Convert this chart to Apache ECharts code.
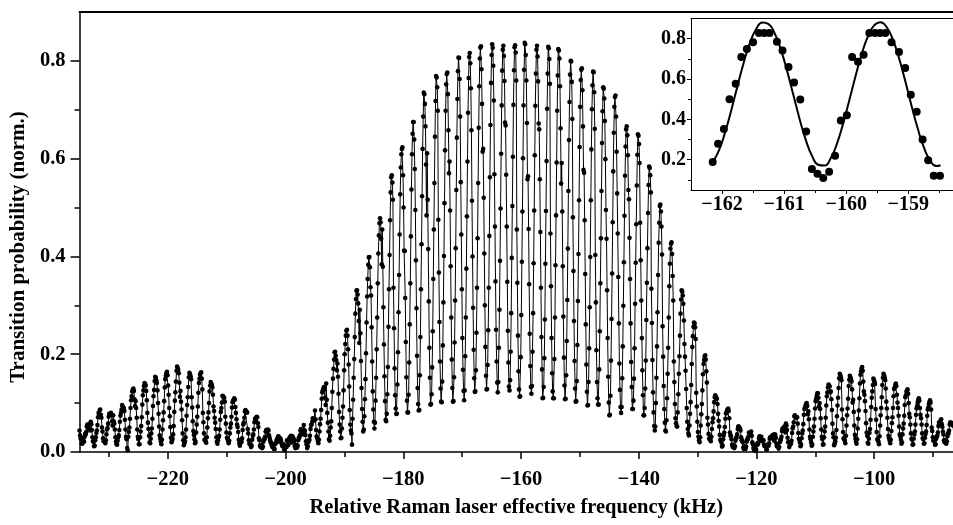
<!DOCTYPE html>
<html>
<head>
<meta charset="utf-8">
<title>Raman fringes</title>
<script src="https://cdn.jsdelivr.net/npm/echarts@6.0.0/dist/echarts.min.js"></script>
<style>
html, body { margin: 0; padding: 0; background: #fff; }
#chart { width: 953px; height: 525px; }
</style>
</head>
<body>
<div id="chart"></div>
<script>
// scan settings of the main trace (kHz); one fringe = 20 samples
var scanStart = -235.0;
var scanStep = 0.09525;

// transition probability per fringe, samples 0,2,4,...,18
var fringeEven = [
  [0.044,0.027,0.018,0.025,0.021,0.037,0.041,0.056,0.049,0.047],
  [0.062,0.045,0.022,0.012,0.024,0.039,0.055,0.080,0.086,0.076],
  [0.050,0.028,0.024,0.018,0.036,0.049,0.072,0.077,0.080,0.063],
  [0.075,0.058,0.030,0.016,0.023,0.034,0.062,0.080,0.096,0.090],
  [0.084,0.046,0.026,0.003,0.041,0.068,0.106,0.124,0.130,0.108],
  [0.104,0.070,0.031,0.016,0.030,0.053,0.097,0.126,0.141,0.136],
  [0.106,0.060,0.033,0.018,0.038,0.068,0.114,0.145,0.152,0.141],
  [0.100,0.052,0.027,0.016,0.046,0.081,0.132,0.156,0.164,0.136],
  [0.090,0.051,0.020,0.027,0.053,0.105,0.144,0.175,0.168,0.142],
  [0.125,0.087,0.038,0.014,0.022,0.046,0.096,0.133,0.162,0.155],
  [0.112,0.063,0.035,0.018,0.040,0.072,0.121,0.150,0.161,0.150],
  [0.080,0.038,0.024,0.019,0.050,0.081,0.124,0.143,0.137,0.117],
  [0.084,0.060,0.030,0.017,0.030,0.046,0.082,0.101,0.114,0.111],
  [0.072,0.040,0.027,0.018,0.038,0.058,0.091,0.104,0.110,0.092],
  [0.067,0.051,0.025,0.013,0.020,0.028,0.056,0.070,0.086,0.081],
  [0.047,0.024,0.017,0.010,0.025,0.036,0.061,0.068,0.072,0.059],
  [0.028,0.013,0.014,0.008,0.021,0.026,0.042,0.040,0.046,0.034],
  [0.024,0.018,0.010,0.015,0.006,0.019,0.026,0.031,0.022,0.028],
  [0.020,0.012,0.016,0.004,0.010,0.024,0.014,0.028,0.031,0.019],
  [0.032,0.027,0.012,0.014,0.009,0.024,0.029,0.044,0.040,0.045],
  [0.055,0.043,0.022,0.008,0.020,0.025,0.047,0.056,0.069,0.064],
  [0.085,0.045,0.028,0.018,0.042,0.068,0.109,0.126,0.133,0.111],
  [0.140,0.080,0.042,0.023,0.050,0.090,0.150,0.189,0.205,0.188],
  [0.181,0.119,0.056,0.028,0.048,0.093,0.167,0.221,0.248,0.238],
  [0.179,0.086,0.044,0.015,0.107,0.190,0.283,0.330,0.322,0.268],
  [0.291,0.186,0.088,0.042,0.073,0.149,0.265,0.354,0.398,0.378],
  [0.320,0.185,0.087,0.048,0.105,0.210,0.345,0.443,0.478,0.436],
  [0.455,0.296,0.155,0.066,0.078,0.174,0.333,0.474,0.562,0.551],
  [0.336,0.171,0.089,0.078,0.204,0.362,0.527,0.609,0.623,0.500],
  [0.411,0.225,0.105,0.081,0.183,0.345,0.537,0.651,0.675,0.579],
  [0.392,0.197,0.098,0.086,0.235,0.425,0.620,0.735,0.712,0.588],
  [0.611,0.415,0.213,0.097,0.118,0.247,0.455,0.645,0.769,0.746],
  [0.475,0.266,0.130,0.102,0.218,0.401,0.617,0.752,0.776,0.658],
  [0.594,0.380,0.189,0.103,0.153,0.310,0.536,0.722,0.807,0.763],
  [0.552,0.333,0.168,0.106,0.196,0.375,0.594,0.765,0.816,0.744],
  [0.514,0.295,0.151,0.124,0.244,0.437,0.663,0.805,0.830,0.712],
  [0.620,0.406,0.215,0.128,0.178,0.336,0.562,0.755,0.834,0.790],
  [0.568,0.349,0.185,0.122,0.213,0.391,0.610,0.780,0.831,0.759],
  [0.668,0.461,0.248,0.134,0.147,0.284,0.503,0.710,0.828,0.817],
  [0.455,0.238,0.128,0.114,0.280,0.492,0.709,0.837,0.812,0.673],
  [0.564,0.343,0.176,0.119,0.205,0.386,0.607,0.774,0.831,0.758],
  [0.660,0.450,0.235,0.110,0.133,0.271,0.493,0.702,0.829,0.804],
  [0.447,0.233,0.124,0.110,0.275,0.484,0.698,0.824,0.805,0.662],
  [0.591,0.380,0.193,0.108,0.157,0.311,0.534,0.716,0.800,0.757],
  [0.480,0.268,0.130,0.104,0.219,0.405,0.624,0.761,0.785,0.666],
  [0.571,0.364,0.179,0.095,0.143,0.296,0.515,0.701,0.778,0.736],
  [0.403,0.208,0.110,0.097,0.247,0.437,0.632,0.746,0.723,0.599],
  [0.436,0.233,0.101,0.076,0.187,0.365,0.574,0.706,0.729,0.614],
  [0.447,0.263,0.127,0.080,0.151,0.299,0.483,0.625,0.666,0.607],
  [0.517,0.354,0.184,0.088,0.105,0.212,0.387,0.545,0.650,0.630],
  [0.469,0.310,0.167,0.075,0.090,0.187,0.346,0.489,0.584,0.566],
  [0.334,0.188,0.081,0.044,0.100,0.216,0.362,0.469,0.506,0.461],
  [0.257,0.135,0.060,0.042,0.110,0.213,0.339,0.416,0.429,0.360],
  [0.185,0.098,0.059,0.052,0.118,0.196,0.283,0.331,0.320,0.269],
  [0.195,0.129,0.062,0.038,0.054,0.102,0.180,0.237,0.265,0.255],
  [0.121,0.062,0.031,0.020,0.054,0.098,0.159,0.188,0.198,0.165],
  [0.070,0.037,0.028,0.022,0.047,0.069,0.102,0.116,0.110,0.098],
  [0.064,0.035,0.023,0.011,0.026,0.040,0.068,0.080,0.087,0.084],
  [0.040,0.033,0.015,0.013,0.008,0.023,0.029,0.047,0.052,0.048],
  [0.030,0.024,0.009,0.011,0.006,0.021,0.026,0.040,0.038,0.042],
  [0.020,0.008,0.010,0.002,0.014,0.016,0.028,0.027,0.031,0.022],
  [0.024,0.012,0.012,0.005,0.015,0.018,0.030,0.031,0.034,0.027],
  [0.036,0.029,0.012,0.013,0.010,0.025,0.031,0.048,0.047,0.050],
  [0.058,0.045,0.020,0.010,0.017,0.023,0.048,0.061,0.075,0.070],
  [0.071,0.039,0.025,0.012,0.028,0.044,0.076,0.090,0.098,0.094],
  [0.083,0.046,0.026,0.013,0.031,0.052,0.089,0.109,0.120,0.111],
  [0.100,0.069,0.031,0.015,0.030,0.052,0.095,0.122,0.138,0.134],
  [0.124,0.086,0.038,0.014,0.022,0.045,0.095,0.131,0.160,0.153],
  [0.087,0.041,0.026,0.018,0.054,0.089,0.135,0.156,0.149,0.128],
  [0.107,0.054,0.027,0.017,0.048,0.085,0.140,0.165,0.174,0.144],
  [0.117,0.084,0.040,0.019,0.027,0.047,0.092,0.124,0.150,0.143],
  [0.088,0.041,0.024,0.016,0.054,0.090,0.137,0.160,0.153,0.130],
  [0.089,0.047,0.028,0.018,0.043,0.071,0.114,0.132,0.140,0.117],
  [0.090,0.052,0.032,0.017,0.036,0.058,0.096,0.116,0.126,0.119],
  [0.078,0.056,0.027,0.015,0.027,0.042,0.076,0.094,0.106,0.105],
  [0.076,0.056,0.028,0.017,0.029,0.042,0.074,0.091,0.102,0.101],
  [0.050,0.030,0.025,0.015,0.027,0.033,0.053,0.058,0.065,0.057],
  [0.042,0.024,0.024,0.017,0.032,0.038,0.056,0.060,0.057,0.054]
];

// transition probability per fringe, samples 1,3,5,...,19
var fringeOdd = [
  [0.034,0.029,0.017,0.024,0.031,0.036,0.052,0.050,0.057,0.044],
  [0.057,0.030,0.021,0.013,0.030,0.044,0.071,0.079,0.087,0.070],
  [0.042,0.022,0.023,0.024,0.046,0.058,0.078,0.076,0.076,0.054],
  [0.063,0.046,0.021,0.015,0.030,0.045,0.074,0.087,0.093,0.090],
  [0.066,0.031,0.008,0.031,0.050,0.090,0.114,0.127,0.125,0.094],
  [0.090,0.046,0.026,0.016,0.042,0.071,0.116,0.135,0.139,0.125],
  [0.080,0.047,0.020,0.027,0.048,0.094,0.127,0.154,0.147,0.126],
  [0.078,0.034,0.021,0.025,0.065,0.104,0.149,0.161,0.157,0.117],
  [0.073,0.029,0.023,0.036,0.082,0.122,0.166,0.172,0.161,0.113],
  [0.103,0.065,0.024,0.018,0.030,0.074,0.112,0.153,0.159,0.149],
  [0.091,0.043,0.026,0.021,0.056,0.093,0.141,0.158,0.163,0.128],
  [0.061,0.025,0.021,0.030,0.069,0.100,0.136,0.140,0.132,0.093],
  [0.070,0.047,0.021,0.024,0.033,0.066,0.090,0.115,0.112,0.103],
  [0.058,0.029,0.023,0.023,0.050,0.072,0.102,0.107,0.107,0.080],
  [0.056,0.041,0.018,0.018,0.021,0.045,0.060,0.083,0.083,0.081],
  [0.038,0.017,0.015,0.013,0.033,0.046,0.068,0.069,0.071,0.051],
  [0.024,0.010,0.013,0.011,0.026,0.031,0.045,0.042,0.044,0.029],
  [0.020,0.014,0.015,0.006,0.016,0.021,0.021,0.032,0.027,0.025],
  [0.016,0.015,0.005,0.012,0.010,0.023,0.024,0.027,0.033,0.022],
  [0.026,0.022,0.008,0.013,0.013,0.029,0.034,0.047,0.042,0.036],
  [0.045,0.035,0.016,0.012,0.024,0.033,0.055,0.062,0.066,0.066],
  [0.067,0.032,0.023,0.025,0.057,0.086,0.122,0.130,0.128,0.096],
  [0.107,0.060,0.026,0.033,0.063,0.123,0.170,0.204,0.197,0.167],
  [0.154,0.082,0.042,0.029,0.070,0.126,0.200,0.238,0.250,0.210],
  [0.134,0.056,0.038,0.068,0.152,0.235,0.313,0.331,0.304,0.223],
  [0.243,0.131,0.062,0.046,0.108,0.202,0.318,0.383,0.399,0.337],
  [0.255,0.124,0.062,0.060,0.152,0.275,0.406,0.468,0.470,0.384],
  [0.379,0.220,0.104,0.063,0.118,0.256,0.403,0.531,0.566,0.516],
  [0.253,0.116,0.078,0.138,0.286,0.445,0.582,0.620,0.566,0.412],
  [0.315,0.153,0.081,0.117,0.261,0.441,0.609,0.675,0.639,0.495],
  [0.294,0.131,0.085,0.157,0.333,0.523,0.686,0.732,0.666,0.484],
  [0.516,0.308,0.152,0.098,0.173,0.354,0.550,0.718,0.766,0.698],
  [0.367,0.185,0.103,0.144,0.306,0.509,0.698,0.773,0.732,0.570],
  [0.494,0.275,0.131,0.104,0.224,0.417,0.643,0.779,0.806,0.686],
  [0.445,0.233,0.125,0.126,0.275,0.482,0.694,0.808,0.795,0.658],
  [0.400,0.209,0.123,0.167,0.336,0.550,0.748,0.827,0.783,0.614],
  [0.520,0.300,0.156,0.129,0.249,0.442,0.669,0.812,0.827,0.719],
  [0.461,0.250,0.142,0.143,0.291,0.498,0.709,0.823,0.810,0.674],
  [0.567,0.348,0.183,0.126,0.205,0.397,0.604,0.781,0.832,0.760],
  [0.346,0.165,0.113,0.194,0.389,0.601,0.782,0.834,0.760,0.558],
  [0.456,0.242,0.133,0.135,0.284,0.494,0.708,0.823,0.809,0.672],
  [0.558,0.336,0.169,0.111,0.192,0.385,0.595,0.774,0.826,0.753],
  [0.339,0.161,0.110,0.190,0.382,0.592,0.770,0.821,0.748,0.549],
  [0.492,0.277,0.136,0.109,0.227,0.416,0.638,0.772,0.799,0.681],
  [0.370,0.186,0.103,0.145,0.309,0.515,0.706,0.782,0.740,0.577],
  [0.474,0.261,0.123,0.096,0.212,0.399,0.619,0.750,0.777,0.661],
  [0.306,0.143,0.097,0.169,0.345,0.534,0.697,0.743,0.677,0.495],
  [0.331,0.154,0.075,0.115,0.272,0.470,0.653,0.726,0.686,0.529],
  [0.358,0.181,0.092,0.092,0.216,0.388,0.565,0.660,0.648,0.536],
  [0.438,0.263,0.133,0.088,0.150,0.303,0.466,0.608,0.647,0.591],
  [0.392,0.233,0.116,0.075,0.130,0.270,0.417,0.546,0.581,0.531],
  [0.264,0.122,0.053,0.052,0.152,0.286,0.428,0.503,0.492,0.404],
  [0.195,0.088,0.044,0.065,0.160,0.275,0.385,0.426,0.405,0.310],
  [0.143,0.069,0.053,0.081,0.160,0.238,0.312,0.328,0.303,0.221],
  [0.166,0.090,0.047,0.034,0.078,0.137,0.215,0.256,0.263,0.231],
  [0.093,0.041,0.024,0.030,0.077,0.126,0.180,0.195,0.189,0.142],
  [0.056,0.027,0.026,0.031,0.061,0.083,0.112,0.113,0.109,0.078],
  [0.052,0.025,0.019,0.013,0.034,0.051,0.079,0.085,0.089,0.069],
  [0.033,0.026,0.010,0.013,0.012,0.029,0.036,0.052,0.049,0.044],
  [0.024,0.020,0.006,0.011,0.011,0.026,0.031,0.038,0.039,0.033],
  [0.016,0.004,0.008,0.005,0.018,0.020,0.032,0.028,0.025,0.024],
  [0.015,0.014,0.005,0.013,0.013,0.027,0.028,0.031,0.035,0.023],
  [0.035,0.017,0.015,0.007,0.020,0.025,0.043,0.045,0.052,0.040],
  [0.054,0.029,0.020,0.015,0.017,0.039,0.052,0.073,0.072,0.071],
  [0.058,0.027,0.020,0.015,0.038,0.057,0.088,0.095,0.100,0.077],
  [0.067,0.031,0.020,0.015,0.042,0.068,0.104,0.115,0.120,0.093],
  [0.088,0.046,0.026,0.016,0.042,0.070,0.114,0.132,0.136,0.122],
  [0.108,0.058,0.030,0.018,0.029,0.073,0.111,0.151,0.157,0.147],
  [0.067,0.028,0.023,0.033,0.075,0.109,0.148,0.153,0.144,0.101],
  [0.082,0.035,0.021,0.026,0.068,0.110,0.158,0.171,0.166,0.124],
  [0.104,0.059,0.033,0.017,0.039,0.066,0.111,0.137,0.147,0.139],
  [0.066,0.026,0.021,0.032,0.075,0.112,0.152,0.157,0.147,0.103],
  [0.070,0.033,0.023,0.025,0.059,0.090,0.129,0.137,0.135,0.101],
  [0.074,0.036,0.025,0.020,0.048,0.074,0.112,0.123,0.128,0.100],
  [0.071,0.038,0.025,0.016,0.036,0.056,0.089,0.101,0.110,0.090],
  [0.069,0.038,0.026,0.018,0.037,0.055,0.087,0.098,0.106,0.087],
  [0.043,0.023,0.022,0.016,0.032,0.040,0.060,0.061,0.067,0.051],
  [0.036,0.020,0.023,0.022,0.038,0.044,0.060,0.057,0.059,0.042]
];

// inset: measured points
var insetFreq = [-162.151,-162.064,-161.97,-161.88,-161.78,-161.69,-161.60,-161.50,-161.405,-161.32,
  -161.235,-161.116,-161.026,-160.93,-160.84,-160.74,-160.645,-160.553,-160.463,-160.37,
  -160.275,-160.18,-160.087,-159.99,-159.905,-159.81,-159.72,-159.627,-159.535,-159.455,
  -159.37,-159.27,-159.15,-159.05,-158.96,-158.865,-158.77,-158.68,-158.59,-158.49];
var insetProb = [0.189,0.279,0.352,0.500,0.577,0.709,0.749,0.782,0.828,0.828,
  0.828,0.785,0.742,0.660,0.583,0.498,0.340,0.154,0.131,0.109,
  0.141,0.220,0.395,0.420,0.709,0.686,0.720,0.828,0.828,0.828,
  0.828,0.782,0.734,0.655,0.522,0.438,0.300,0.197,0.121,0.121];

// inset: fitted curve
var fitFreq = [-162.15,-162.05,-161.95,-161.85,-161.75,-161.65,-161.55,-161.45,-161.35,-161.25,
  -161.15,-161.05,-160.95,-160.85,-160.75,-160.65,-160.55,-160.45,-160.35,-160.25,
  -160.15,-160.05,-159.95,-159.85,-159.75,-159.65,-159.55,-159.45,-159.35,-159.25,
  -159.15,-159.05,-158.95,-158.85,-158.75,-158.65,-158.55,-158.48];
var fitProb = [0.188,0.246,0.337,0.447,0.567,0.682,0.780,0.848,0.880,0.872,
  0.825,0.743,0.638,0.519,0.401,0.297,0.219,0.175,0.171,0.207,
  0.279,0.379,0.495,0.614,0.724,0.811,0.866,0.882,0.858,0.796,
  0.704,0.591,0.470,0.357,0.262,0.197,0.169,0.173];

// tick labels
var mainXTicks = [-220, -200, -180, -160, -140, -120, -100];
var mainXMinor = [-230, -210, -190, -170, -150, -130, -110, -90];
var mainYTicks = [0, 0.2, 0.4, 0.6, 0.8];
var mainYMinor = [0.1, 0.3, 0.5, 0.7];
var insetXTicks = [-162, -161, -160, -159];
var insetXMinor = [-161.5, -160.5, -159.5, -158.5];
var insetYTicks = [0.2, 0.4, 0.6, 0.8];
var insetYMinor = [0.1, 0.3, 0.5, 0.7];

// merge even/odd samples back into scan order
var mainData = [];
fringeEven.forEach(function (row, j) {
  row.forEach(function (p, i) {
    var k = j * 20 + i * 2;
    mainData.push([+(scanStart + k * scanStep).toFixed(4), p]);
    mainData.push([+(scanStart + (k + 1) * scanStep).toFixed(4), fringeOdd[j][i]]);
  });
});
var insetData = insetFreq.map(function (f, i) { return [f, insetProb[i]]; });
var fitData = fitFreq.map(function (f, i) { return [f, fitProb[i]]; });

var FONT = '"Liberation Serif", "Times New Roman", serif';
function minus(v) { return String(v).replace('-', '\u2212'); }
function oneDec(v) { return Number(v).toFixed(1); }

function labelStyle(size, margin, fmt, values) {
  return {
    customValues: values, formatter: fmt, margin: margin,
    color: '#000', fontFamily: FONT, fontWeight: 'bold', fontSize: size
  };
}
function lineSt(w) { return { onZero: false, lineStyle: { color: '#000', width: w } }; }
function tickSt(values, len, w) {
  return { customValues: values, length: len, inside: false, lineStyle: { color: '#000', width: w } };
}
var noSplit = { show: false };

var chartDom = document.getElementById('chart');
var myChart = echarts.init(chartDom);

var option = {
  animation: false,
  backgroundColor: '#fff',
  grid: [
    { left: 79, top: 12, right: 0, bottom: 73 },
    { left: 691, top: 18.5, right: 0, bottom: 335, show: true, backgroundColor: '#fff', borderWidth: 0 }
  ],
  xAxis: [
    {
      gridIndex: 0, type: 'value', min: -235, max: -86.6, position: 'bottom',
      axisLine: lineSt(1.5), axisTick: tickSt(mainXTicks, 7, 1.5),
      axisLabel: labelStyle(20.5, 17, minus, mainXTicks), splitLine: noSplit,
      name: 'Relative Raman laser effective frequency (kHz)', nameLocation: 'middle', nameGap: 45,
      nameTextStyle: { color: '#000', fontFamily: FONT, fontWeight: 'bold', fontSize: 20.5 }
    },
    {
      gridIndex: 0, type: 'value', min: -235, max: -86.6, position: 'bottom',
      axisLine: { show: false }, axisTick: tickSt(mainXMinor, 5, 1.5),
      axisLabel: { show: false }, splitLine: noSplit
    },
    {
      gridIndex: 0, type: 'value', min: -235, max: -86.6, position: 'top',
      axisLine: lineSt(2), axisTick: { show: false }, axisLabel: { show: false }, splitLine: noSplit
    },
    {
      gridIndex: 1, type: 'value', min: -162.5, max: -158.28, position: 'bottom',
      axisLine: lineSt(1), axisTick: tickSt(insetXTicks, 4, 1),
      axisLabel: labelStyle(20, 5, minus, insetXTicks), splitLine: noSplit
    },
    {
      gridIndex: 1, type: 'value', min: -162.5, max: -158.28, position: 'bottom',
      axisLine: { show: false }, axisTick: tickSt(insetXMinor, 3, 1),
      axisLabel: { show: false }, splitLine: noSplit
    },
    {
      gridIndex: 1, type: 'value', min: -162.5, max: -158.28, position: 'top',
      axisLine: lineSt(1), axisTick: { show: false }, axisLabel: { show: false }, splitLine: noSplit
    }
  ],
  yAxis: [
    {
      gridIndex: 0, type: 'value', min: 0, max: 0.9, position: 'left',
      axisLine: lineSt(1.5), axisTick: tickSt(mainYTicks, 9, 1.5),
      axisLabel: labelStyle(20.5, 14, oneDec, mainYTicks), splitLine: noSplit,
      name: 'Transition probability (norm.)', nameLocation: 'middle', nameGap: 47,
      nameTextStyle: { color: '#000', fontFamily: FONT, fontWeight: 'bold', fontSize: 21, padding: [0, 30, 0, 0] }
    },
    {
      gridIndex: 0, type: 'value', min: 0, max: 0.9, position: 'left',
      axisLine: { show: false }, axisTick: tickSt(mainYMinor, 5, 1.5),
      axisLabel: { show: false }, splitLine: noSplit
    },
    {
      gridIndex: 1, type: 'value', min: 0.05, max: 0.9, position: 'left',
      axisLine: lineSt(1), axisTick: tickSt(insetYTicks, 4, 1),
      axisLabel: labelStyle(20, 5, oneDec, insetYTicks), splitLine: noSplit
    },
    {
      gridIndex: 1, type: 'value', min: 0.05, max: 0.9, position: 'left',
      axisLine: { show: false }, axisTick: tickSt(insetYMinor, 3, 1),
      axisLabel: { show: false }, splitLine: noSplit
    }
  ],
  series: [
    {
      name: 'scan', type: 'line', xAxisIndex: 0, yAxisIndex: 0,
      data: mainData, symbol: 'circle', symbolSize: 4.6,
      showSymbol: true, showAllSymbol: true,
      itemStyle: { color: '#000', opacity: 1 }, lineStyle: { color: '#000', width: 1 }
    },
    {
      name: 'data', type: 'scatter', xAxisIndex: 3, yAxisIndex: 2,
      data: insetData, symbolSize: 8, itemStyle: { color: '#000', opacity: 1 }, z: 4
    },
    {
      name: 'fit', type: 'line', xAxisIndex: 3, yAxisIndex: 2,
      data: fitData, smooth: true, showSymbol: false,
      lineStyle: { color: '#000', width: 2 }, z: 3
    }
  ]
};
myChart.setOption(option);
</script>
</body>
</html>
